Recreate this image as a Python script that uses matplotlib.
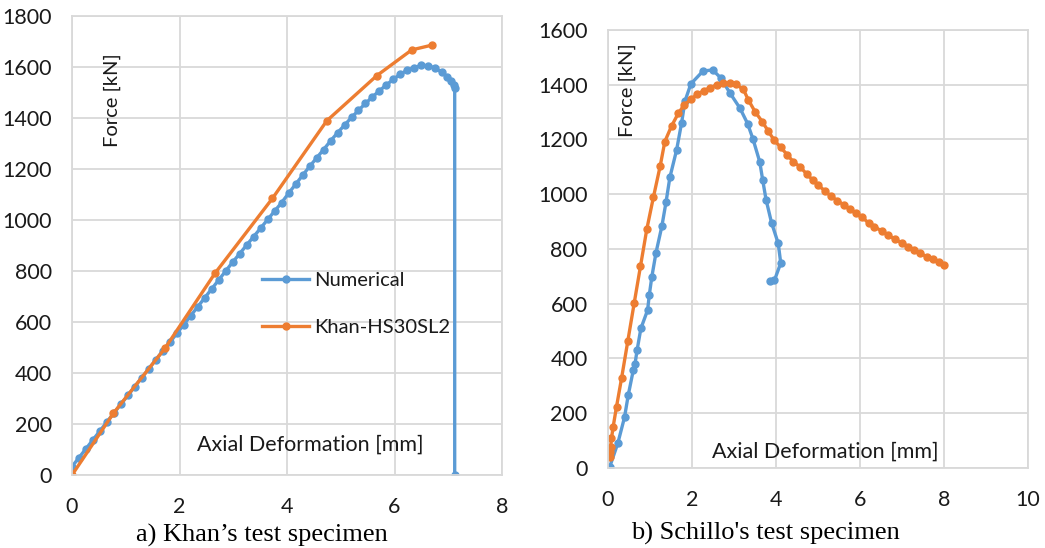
import matplotlib
matplotlib.use("Agg")
import matplotlib.pyplot as plt

plt.rcParams['font.family'] = ['Lato', 'DejaVu Sans']

BLUE = '#5B9BD5'
ORANGE = '#ED7D31'
GRID = '#D9D9D9'

# ---- a) Khan's test specimen ----
khan_num_x = [0.00, 0.13, 0.26, 0.39, 0.52, 0.65, 0.78, 0.91, 1.04, 1.17, 1.30, 1.43, 1.56, 1.69,
              1.82, 1.95, 2.08, 2.21, 2.34, 2.47, 2.60, 2.73, 2.86, 2.99, 3.12, 3.25, 3.38, 3.51,
              3.64, 3.77, 3.90, 4.03, 4.16, 4.29, 4.42, 4.55, 4.68, 4.81, 4.94, 5.07, 5.20, 5.33,
              5.46, 5.59, 5.72, 5.85, 5.98, 6.11, 6.24, 6.37, 6.50, 6.63, 6.76, 6.88, 6.98, 7.05,
              7.10, 7.12, 7.12]
khan_num_y = [33, 68, 103, 138, 173, 208, 243, 278, 312, 347, 382, 417, 452, 487,
              520, 555, 590, 625, 660, 695, 730, 765, 800, 835, 868, 902, 935, 968,
              1002, 1035, 1068, 1105, 1140, 1175, 1210, 1243, 1276, 1310, 1342, 1372, 1402, 1430,
              1457, 1483, 1507, 1530, 1552, 1572, 1588, 1598, 1606, 1605, 1595, 1580, 1562, 1546,
              1530, 1516, 0]
khan_test_x = [0.00, 0.77, 1.73, 2.66, 3.73, 4.74, 5.67, 6.32, 6.70]
khan_test_y = [0, 242, 497, 791, 1085, 1389, 1566, 1667, 1686]

# ---- b) Schillo's test specimen ----
sch_num_x = [0.05, 0.24, 0.40, 0.49, 0.61, 0.65, 0.70, 0.79, 0.95, 0.99, 1.05, 1.15, 1.29, 1.39,
             1.48, 1.64, 1.76, 1.84, 1.98, 2.27, 2.50, 2.69, 2.91, 3.15, 3.33, 3.46, 3.62, 3.69,
             3.77, 3.90, 4.06, 4.12, 3.97, 3.87]
sch_num_y = [4, 89, 184, 266, 357, 379, 430, 509, 576, 631, 697, 786, 883, 972,
             1061, 1161, 1261, 1340, 1403, 1450, 1454, 1425, 1370, 1314, 1258, 1201, 1118, 1052,
             980, 896, 820, 748, 685, 683]
sch_test_x = [0.05, 0.05, 0.07, 0.09, 0.13, 0.21, 0.33, 0.48, 0.63, 0.78, 0.93, 1.09, 1.25, 1.36,
              1.52, 1.68, 1.82, 1.98, 2.13, 2.29, 2.44, 2.60, 2.75, 2.91, 3.05, 3.23, 3.35, 3.51,
              3.68, 3.82, 3.96, 4.12, 4.28, 4.42, 4.58, 4.74, 4.88, 5.01, 5.17, 5.31, 5.47, 5.63,
              5.77, 5.91, 6.06, 6.21, 6.34, 6.52, 6.68, 6.84, 7.00, 7.16, 7.29, 7.44, 7.60, 7.75,
              7.88, 8.00]
sch_test_y = [40, 58, 77, 107, 150, 223, 327, 464, 601, 736, 871, 990, 1103, 1192,
              1249, 1295, 1326, 1346, 1365, 1378, 1389, 1399, 1405, 1405, 1402, 1383, 1344, 1301,
              1265, 1231, 1198, 1171, 1143, 1118, 1100, 1073, 1052, 1033, 1012, 993, 976, 960,
              944, 930, 915, 895, 881, 866, 850, 835, 822, 808, 796, 784, 771, 762,
              752, 741]

W, H = 1045, 548
fig = plt.figure(figsize=(W / 100, H / 100), dpi=100)


def fx(px):
    return px / W


def fy(py):
    return 1 - py / H


axL = fig.add_axes([fx(72), fy(475), fx(502) - fx(72), fy(16) - fy(475)])
axR = fig.add_axes([fx(607.7), fy(467.7), fx(1027.7) - fx(607.7), fy(30) - fy(467.7)])

lw = 2.4
ms = 5.0
lnum, = axL.plot(khan_num_x, khan_num_y, color=BLUE, lw=lw, marker='o', ms=ms, label='Numerical')
ltest, = axL.plot(khan_test_x, khan_test_y, color=ORANGE, lw=lw, marker='o', ms=ms, label='Khan-HS30SL2')
axR.plot(sch_num_x, sch_num_y, color=BLUE, lw=lw, marker='o', ms=ms)
axR.plot(sch_test_x, sch_test_y, color=ORANGE, lw=lw, marker='o', ms=ms)

axL.set_xlim(0, 8)
axL.set_ylim(0, 1800)
axL.set_xticks([0, 2, 4, 6, 8])
axL.set_yticks(range(0, 1801, 200))
axR.set_xlim(0, 10)
axR.set_ylim(0, 1600)
axR.set_xticks([0, 2, 4, 6, 8, 10])
axR.set_yticks(range(0, 1601, 200))

TXT = '#1a1a1a'
for ax in (axL, axR):
    ax.grid(True, color=GRID, lw=1.3)
    ax.set_axisbelow(True)
    for s in ax.spines.values():
        s.set_color(GRID)
        s.set_linewidth(1.3)
    ax.tick_params(length=0, labelsize=15.5, colors=TXT)
    ax.tick_params(axis='y', pad=14.5)
    ax.tick_params(axis='x', pad=16)

LS = 14.5
AX = 15.5
# axis labels inside plots
fig.text(fx(112), fy(100), 'Force [kN]', rotation=90, ha='center', va='center', fontsize=LS, color=TXT)
fig.text(fx(627), fy(90), 'Force [kN]', rotation=90, ha='center', va='center', fontsize=LS, color=TXT)
fig.text(fx(310), fy(445), 'Axial Deformation [mm]', ha='center', va='center', fontsize=AX, color=TXT)
fig.text(fx(825), fy(452), 'Axial Deformation [mm]', ha='center', va='center', fontsize=AX, color=TXT)

# captions
fig.text(fx(262), fy(535), 'a) Khan\u2019s test specimen', ha='center', va='center',
         fontsize=19, family='Liberation Serif', color='black')
fig.text(fx(765), fy(533), "b) Schillo's test specimen", ha='center', va='center',
         fontsize=19, family='Liberation Serif', color='black')

leg = axL.legend(handles=[lnum, ltest], loc='upper left',
                 bbox_to_anchor=(fx(262), fy(272)), bbox_transform=fig.transFigure,
                 frameon=False, fontsize=LS, numpoints=1, handlelength=2.35,
                 handletextpad=0.25, labelspacing=1.5, borderpad=0, borderaxespad=0)
for t in leg.get_texts():
    t.set_color(TXT)

fig.savefig('out.png', dpi=100)
